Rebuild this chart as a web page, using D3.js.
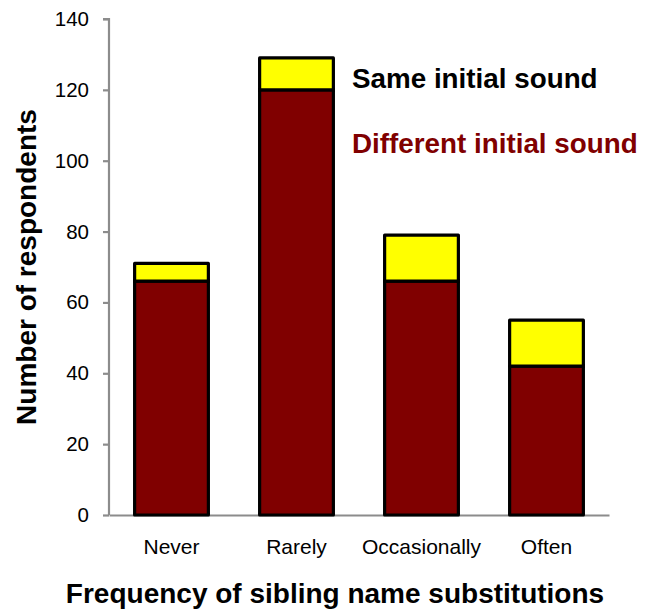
<!DOCTYPE html>
<html>
<head>
<meta charset="utf-8">
<script src="https://cdn.jsdelivr.net/npm/d3@7"></script>
<style>
  html, body { margin: 0; padding: 0; background: #fff; }
  svg { display: block; font-family: "Liberation Sans", Arial, sans-serif; }
</style>
</head>
<body>
<svg id="chart" width="651" height="613"></svg>
<script>
const categories = ["Never", "Rarely", "Occasionally", "Often"];
const differentInitial = [66, 120, 66, 42];
const sameInitial = [5, 9, 13, 13];
const yTicks = [0, 20, 40, 60, 80, 100, 120, 140];
const seriesNames = ["Different initial sound", "Same initial sound"];
const seriesColors = ["#800000", "#FFFF00"];

(function () {
const svg = d3.select("#chart");
const plotLeft = 109, plotRight = 609, plotTop = 19, plotBottom = 515;

const x = d3.scaleBand().domain(categories).range([plotLeft, plotRight]).paddingInner(0.41).paddingOuter(0.205);
const y = d3.scaleLinear().domain([0, 140]).range([plotBottom, plotTop]);

const rows = categories.map((c, i) => ({ cat: c, diff: differentInitial[i], same: sameInitial[i] }));
const layers = d3.stack().keys(["diff", "same"])(rows);

// axes
const yAxis = d3.axisLeft(y).tickValues(yTicks).tickSize(6).tickPadding(14).tickFormat(d3.format("d"));
const gy = svg.append("g").attr("transform", `translate(${plotLeft},0)`).call(yAxis);
gy.select(".domain").attr("stroke", "#8c8c8c").attr("stroke-width", 2.2).attr("d", `M-6,${plotTop}H0V${plotBottom}`);
gy.selectAll(".tick line").attr("stroke", "#8c8c8c").attr("stroke-width", 2.2);
gy.selectAll(".tick text").attr("fill", "#000").style("font-size", "20.5px").style("font-family", "Liberation Sans, Arial, sans-serif");

const xAxis = d3.axisBottom(x).tickSize(0).tickPadding(24);
const gx = svg.append("g").attr("transform", `translate(0,${plotBottom})`).call(xAxis);
gx.select(".domain").attr("stroke", "#8c8c8c").attr("stroke-width", 2.2);
gx.selectAll(".tick text").attr("fill", "#000").style("font-size", "21px").style("font-family", "Liberation Sans, Arial, sans-serif");

// bars
svg.append("g").selectAll("g").data(layers).join("g")
  .attr("fill", (d, i) => seriesColors[i])
  .selectAll("rect").data(d => d).join("rect")
  .attr("x", d => x(d.data.cat))
  .attr("width", x.bandwidth())
  .attr("y", d => y(d[1]))
  .attr("height", d => y(d[0]) - y(d[1]))
  .attr("stroke", "#000")
  .attr("stroke-width", 3.2)
  .attr("stroke-linejoin", "round");

// legend text
svg.append("text").attr("x", 352).attr("y", 88)
  .attr("fill", "#000").style("font-size", "27.8px").style("font-weight", "bold")
  .text(seriesNames[1]);
svg.append("text").attr("x", 352).attr("y", 153)
  .attr("fill", "#800000").style("font-size", "27.8px").style("font-weight", "bold")
  .text(seriesNames[0]);

// axis titles
svg.append("text").attr("transform", "translate(36,267) rotate(-90)")
  .attr("text-anchor", "middle").style("font-size", "28px").style("font-weight", "bold")
  .text("Number of respondents");
svg.append("text").attr("x", 335).attr("y", 603)
  .attr("text-anchor", "middle").style("font-size", "28px").style("font-weight", "bold")
  .text("Frequency of sibling name substitutions");
})();
</script>
</body>
</html>
